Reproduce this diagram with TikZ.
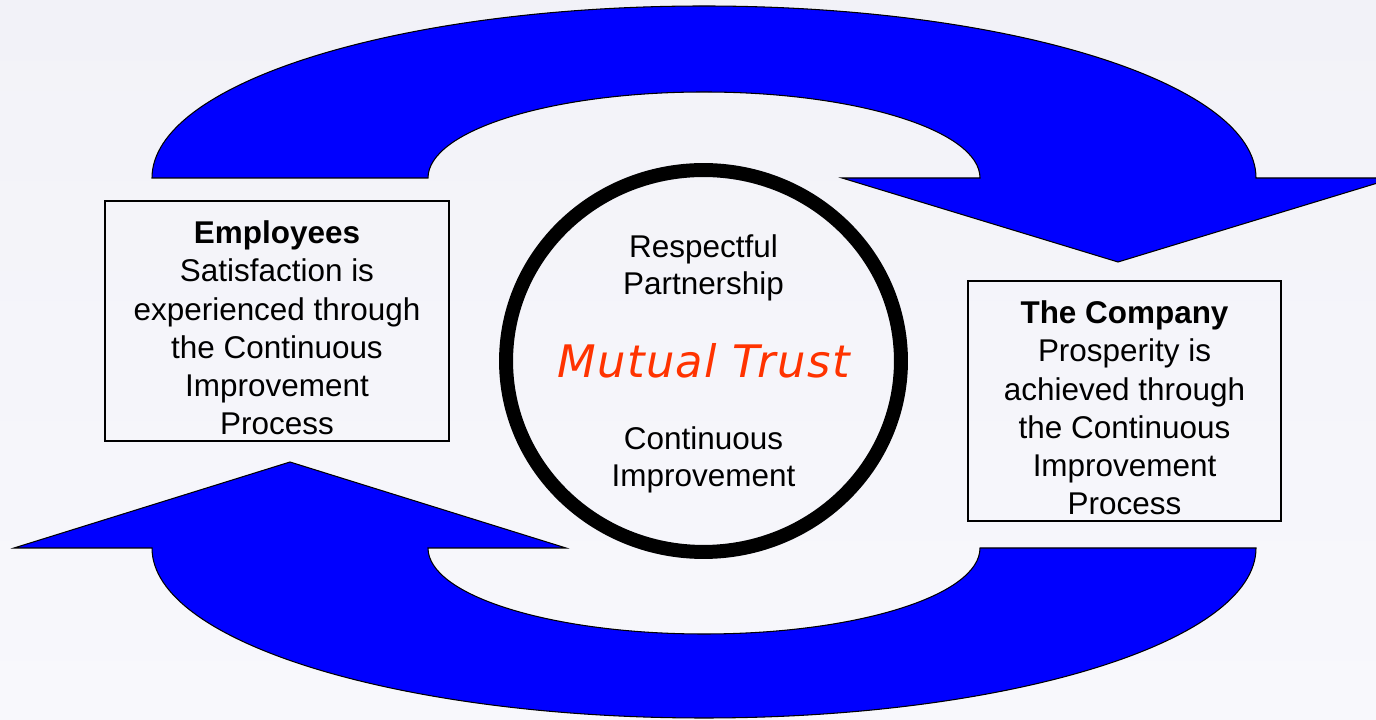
\documentclass[tikz,border=0pt]{standalone}
\usepackage{fontspec}
\setmainfont{Liberation Sans}
\newfontfamily\trustfont[LetterSpace=3]{DejaVu Sans}
\usetikzlibrary{shapes.geometric, positioning}

\definecolor{bgtop}{RGB}{242,242,248}
\definecolor{bgbottom}{RGB}{248,248,252}
\definecolor{loopblue}{RGB}{0,0,255}
\definecolor{trustred}{RGB}{255,51,0}

\begin{document}
\begin{tikzpicture}[x=0.02cm, y=0.02cm,
  box/.style={rectangle, minimum height=4.8cm, draw=black, line width=1.1pt},
  boxtext/.style={align=center, text centered, font=\fontsize{17.9}{21.8}\selectfont},
  hub/.style={ellipse, minimum width=7.9cm, minimum height=7.64cm, draw=black, line width=0.28cm},
  hubtext/.style={align=center, font=\fontsize{17.9}{21}\selectfont},
  trust/.style={text=trustred, font=\trustfont\itshape\fontsize{25.5}{30}\selectfont},
  loop/.style={fill=loopblue, draw=black, line width=0.6pt, line join=miter}]

  % Background
  \useasboundingbox (0,0) rectangle (1376,720);
  \clip (0,0) rectangle (1376,720);
  \shade [top color=bgtop, bottom color=bgbottom] (0,0) rectangle (1376,720);

  % Loops
  \draw [loop] (152,542) arc[start angle=180, end angle=0, x radius=552, y radius=172]
    -- (1394,542) -- (1118,458) -- (842,542) -- (980,542)
    arc[start angle=0, end angle=180, x radius=276, y radius=86] -- cycle;
  \draw [loop] (1256,172) arc[start angle=0, end angle=-180, x radius=552, y radius=170]
    -- (14,172) -- (290,258) -- (566,172) -- (428,172)
    arc[start angle=180, end angle=360, x radius=276, y radius=86] -- cycle;

  % Nodes
  \node (hub) [hub] at (703.5,359) {};
  \node (partnership) [hubtext, above of=hub, yshift=0.86cm] {Respectful\\ Partnership};
  \node (trust) [trust] at (hub) {Mutual Trust};
  \node (improvement) [hubtext, below of=hub, yshift=-0.98cm] {Continuous\\ Improvement};

  \node (employees) [box, minimum width=6.88cm] at (277,399) {};
  \node (employeesText) [boxtext] at ([yshift=-0.14cm]employees.center) {\textbf{Employees}\\ Satisfaction is\\ experienced through\\ the Continuous\\ Improvement\\ Process};
  \node (company) [box, minimum width=6.26cm] at (1124.5,319) {};
  \node (companyText) [boxtext] at ([yshift=-0.14cm]company.center) {\textbf{The Company}\\ Prosperity is\\ achieved through\\ the Continuous\\ Improvement\\ Process};
\end{tikzpicture}
\end{document}
